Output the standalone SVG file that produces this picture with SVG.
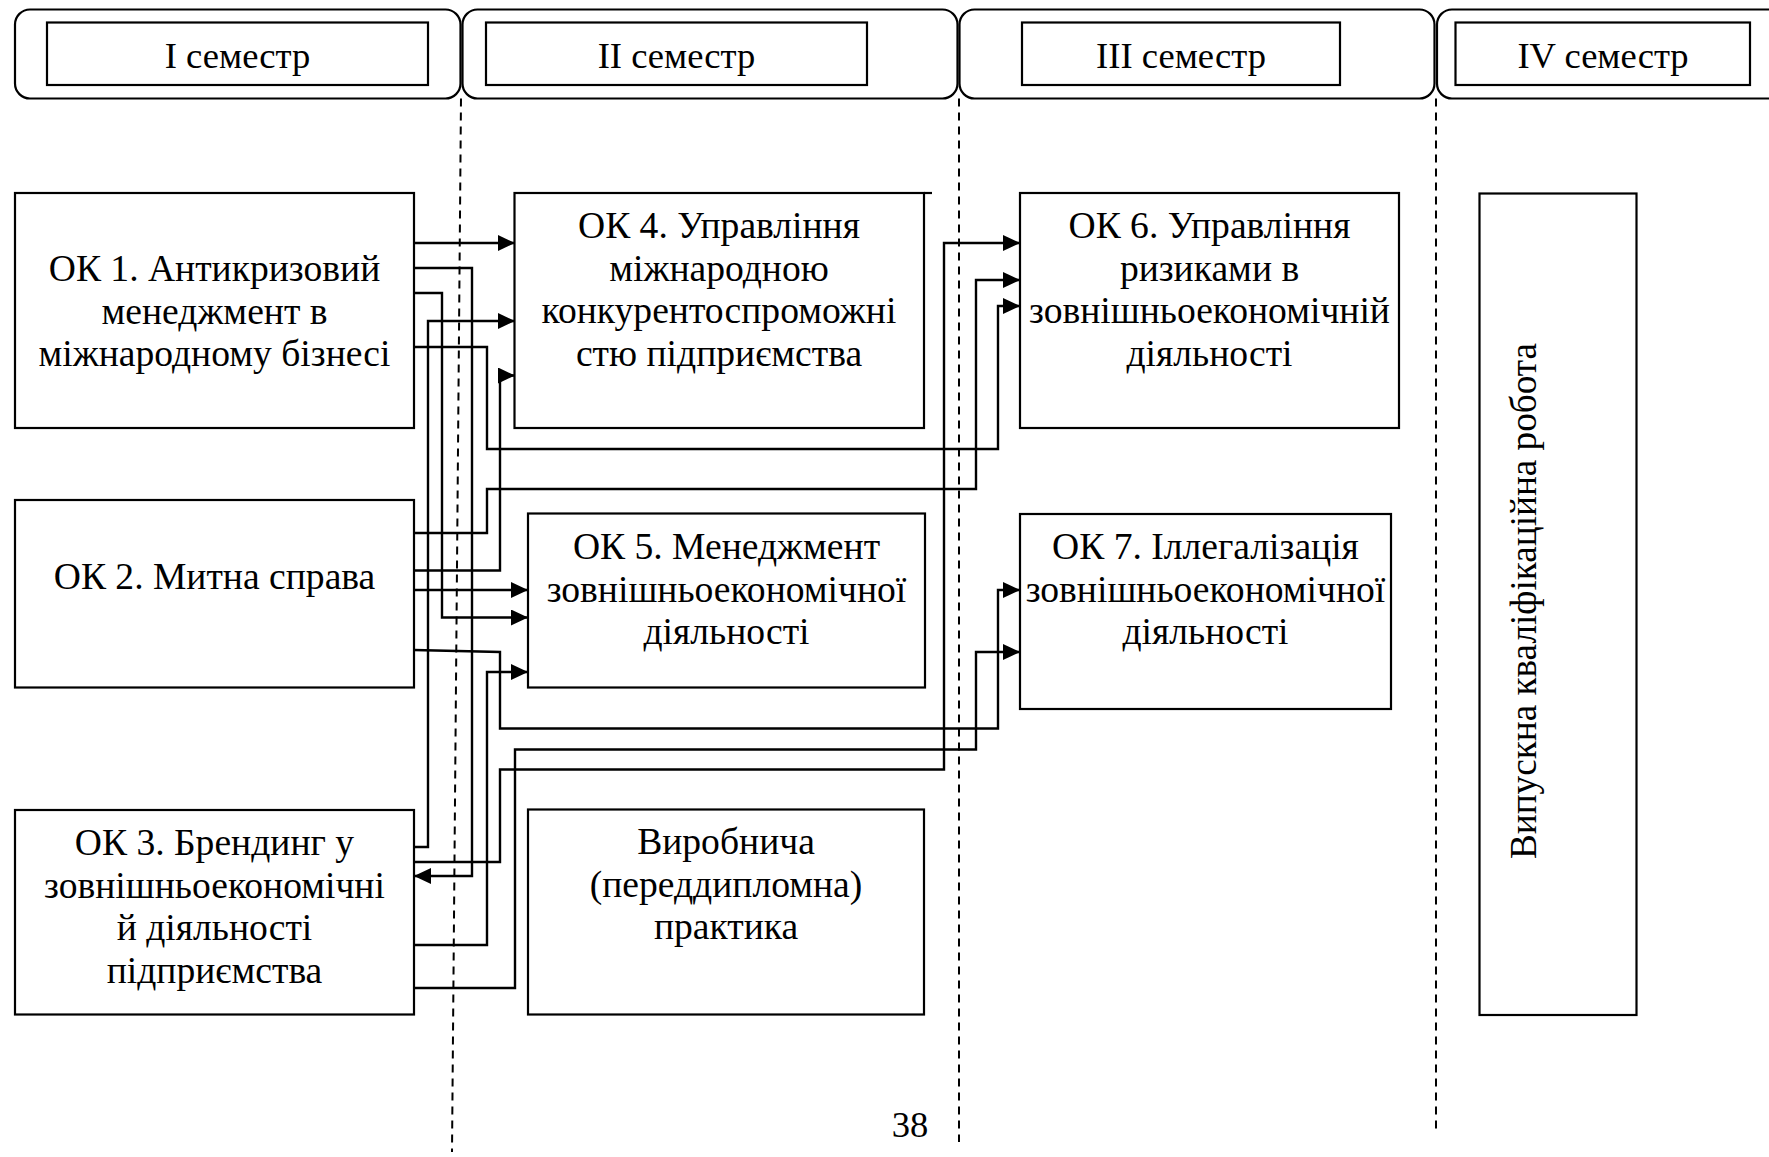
<svg xmlns="http://www.w3.org/2000/svg" width="1769" height="1157" viewBox="0 0 1769 1157">
<style>
  .box { fill: #ffffff; stroke: #000000; stroke-width: 2.2; }
  .hdr { fill: #ffffff; stroke: #000000; stroke-width: 2.2; }
  .t { font-family: "Liberation Serif", "Times New Roman", serif; font-size: 37.6px; fill: #000000; text-anchor: middle; }
  .th { font-family: "Liberation Serif", "Times New Roman", serif; font-size: 36.6px; fill: #000000; text-anchor: middle; }
  .dash { fill: none; stroke: #000000; stroke-width: 2; stroke-dasharray: 8 6; }
  .conn { fill: none; stroke: #000000; stroke-width: 2.4; marker-end: url(#arr); }
</style>
<defs>
  <marker id="arr" markerUnits="userSpaceOnUse" markerWidth="19" markerHeight="17" refX="17" refY="8" orient="auto">
    <path d="M0,0 L17,8 L0,16 z" fill="#000000"/>
  </marker>
</defs>
<rect x="0" y="0" width="1769" height="1157" fill="#ffffff"/>

<g id="semesters">
  <g id="sem1">
    <rect class="hdr" x="15" y="9.5" width="445.5" height="89" rx="15" ry="15"/>
    <rect class="hdr" x="47" y="22.5" width="381" height="62.5"/>
    <text class="th" x="237.5" y="68.3">I семестр</text>
  </g>
  <g id="sem2">
    <rect class="hdr" x="462.5" y="9.5" width="495" height="89" rx="15" ry="15"/>
    <rect class="hdr" x="486" y="22.5" width="381" height="62.5"/>
    <text class="th" x="676.5" y="68.3">II семестр</text>
  </g>
  <g id="sem3">
    <rect class="hdr" x="959.5" y="9.5" width="475" height="89" rx="15" ry="15"/>
    <rect class="hdr" x="1022" y="22.5" width="318" height="62.5"/>
    <text class="th" x="1181" y="68.3">III семестр</text>
  </g>
  <g id="sem4">
    <rect class="hdr" x="1437" y="9.5" width="360" height="89" rx="15" ry="15"/>
    <rect class="hdr" x="1455.5" y="22.5" width="294.5" height="62.5"/>
    <text class="th" x="1603" y="68.3">IV семестр</text>
  </g>
</g>

<g id="dividers">
  <line class="dash" x1="461" y1="98.5" x2="452" y2="1152"/>
  <line class="dash" x1="959" y1="98.5" x2="959" y2="1142"/>
  <line class="dash" x1="1436" y1="98.5" x2="1436" y2="1129"/>
</g>

<g id="ok1">
  <rect class="box" x="15" y="193" width="399" height="235"/>
  <text class="t" x="214.5" y="281">ОК 1. Антикризовий</text>
  <text class="t" x="214.5" y="323.5">менеджмент в</text>
  <text class="t" x="214.5" y="366">міжнародному бізнесі</text>
</g>
<g id="ok2">
  <rect class="box" x="15" y="500" width="399" height="187.5"/>
  <text class="t" x="214.5" y="588.5">ОК 2. Митна справа</text>
</g>
<g id="ok3">
  <rect class="box" x="15" y="810" width="399" height="204.5"/>
  <text class="t" x="214.5" y="855">ОК 3. Брендинг у</text>
  <text class="t" x="214.5" y="897.5">зовнішньоекономічні</text>
  <text class="t" x="214.5" y="940">й діяльності</text>
  <text class="t" x="214.5" y="982.5">підприємства</text>
</g>
<g id="ok4">
  <rect class="box" x="514.5" y="193" width="409.5" height="235"/>
  <line x1="924" y1="193" x2="932" y2="193" stroke="#000000" stroke-width="2.2"/>
  <text class="t" x="719" y="238">ОК 4. Управління</text>
  <text class="t" x="719" y="280.5">міжнародною</text>
  <text class="t" x="719" y="323">конкурентоспроможні</text>
  <text class="t" x="719" y="365.5">стю підприємства</text>
</g>
<g id="ok5">
  <rect class="box" x="528" y="513.5" width="397" height="174"/>
  <text class="t" x="726.5" y="559">ОК 5. Менеджмент</text>
  <text class="t" x="726.5" y="601.5">зовнішньоекономічної</text>
  <text class="t" x="726.5" y="644">діяльності</text>
</g>
<g id="practice">
  <rect class="box" x="528" y="809.5" width="396" height="205"/>
  <text class="t" x="726" y="854.3">Виробнича</text>
  <text class="t" x="726" y="896.7">(переддипломна)</text>
  <text class="t" x="726" y="939.3">практика</text>
</g>
<g id="ok6">
  <rect class="box" x="1020" y="193" width="379" height="235"/>
  <text class="t" x="1209.5" y="238">ОК 6. Управління</text>
  <text class="t" x="1209.5" y="280.5">ризиками в</text>
  <text class="t" x="1209.5" y="323">зовнішньоекономічній</text>
  <text class="t" x="1209.5" y="365.5">діяльності</text>
</g>
<g id="ok7">
  <rect class="box" x="1020" y="514" width="371" height="195"/>
  <text class="t" x="1205.5" y="559">ОК 7. Іллегалізація</text>
  <text class="t" x="1205.5" y="601.5">зовнішньоекономічної</text>
  <text class="t" x="1205.5" y="644">діяльності</text>
</g>
<g id="thesis">
  <rect class="box" x="1479.5" y="193.5" width="157" height="821.5"/>
  <text class="t" x="1536" y="601" transform="rotate(-90 1536 601)" style="font-size:37.2px">Випускна кваліфікаційна робота</text>
</g>

<g id="connectors">
  <path class="conn" d="M414,243 H515"/>
  <path class="conn" d="M414,268 H472 V876 H414"/>
  <path class="conn" d="M414,293 H442 V617.5 H528"/>
  <path class="conn" d="M414,847 H428 V321 H515"/>
  <path class="conn" d="M414,347 H487 V449 H998 V306 H1020"/>
  <path class="conn" d="M414,570.5 H500 V375.5 H515"/>
  <path class="conn" d="M414,533 H487 V489 H976 V280 H1020"/>
  <path class="conn" d="M414,590 H528"/>
  <path class="conn" d="M414,650 L500,652 V728.5 H998 V590 H1020"/>
  <path class="conn" d="M414,945 H487 V672 H528"/>
  <path class="conn" d="M414,988 H515 V749.5 H976 V652 H1020"/>
  <path class="conn" d="M414,862 H500 V769.5 H944 V243 H1020"/>
</g>

<g id="page-number">
  <text class="th" x="910" y="1137">38</text>
</g>
</svg>
